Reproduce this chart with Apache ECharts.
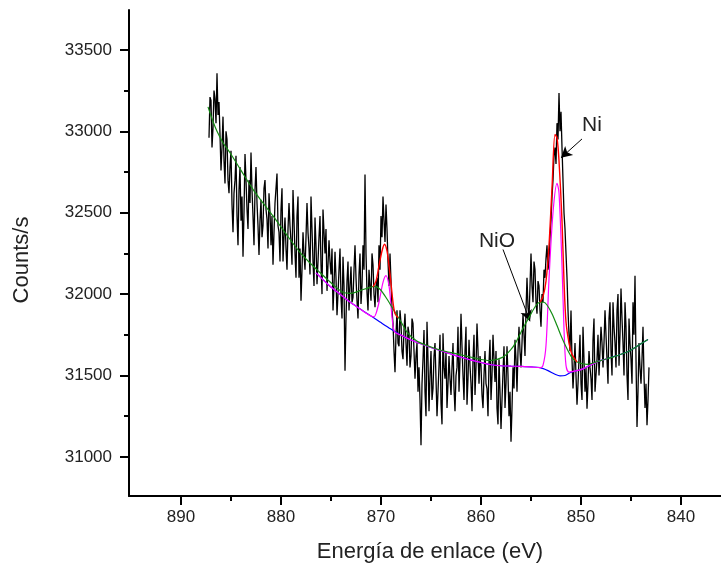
<!DOCTYPE html>
<html>
<head>
<meta charset="utf-8">
<script src="https://cdn.jsdelivr.net/npm/echarts@6/dist/echarts.min.js"></script>
<style>
html,body{margin:0;padding:0;background:#fff;}
#chart{width:721px;height:568px;}
</style>
</head>
<body>
<div id="chart"></div>
<script>
// ---- data ----
const energyStart = 887.2;   // eV, first sample
const energyStep = 0.1;      // eV between samples (descending)
const counts = [
  32960, 33210, 33190, 32900, 33020, 33250, 33200, 33050, 33357, 33100,
  33180, 32980, 32760, 32900, 33090, 32820, 32680, 33000, 32950, 32700,
  32620, 32780, 32880, 32550, 32380, 32620, 32700, 32850, 32480, 32300,
  32640, 32780, 32450, 32600, 32230, 32500, 32860, 32700, 32520, 32400,
  32700, 32560, 32870, 32640, 32480, 32300, 32640, 32780, 32560, 32420,
  32240, 32450, 32580, 32350, 32420, 32650, 32700, 32520, 32460, 32280,
  32620, 32500, 32300, 32480, 32180, 32380, 32560, 32650, 32740, 32420,
  32380, 32200, 32520, 32650, 32200, 32350, 32470, 32280, 32150, 32400,
  32560, 32420, 32320, 32180, 32640, 32450, 32250, 32100, 32480, 32600,
  32100, 32280, 31960, 32150, 32380, 32250, 32150, 32350, 32560, 32380,
  32280, 32120, 32600, 32400, 32200, 32050, 32470, 32300, 32060, 32200,
  32350, 32480, 32180, 32000, 32520, 32380, 32250, 32400, 32020, 32180,
  32330, 32200, 32120, 32280, 31900, 32050, 32260, 32100, 31870, 32000,
  32150, 32280, 31980, 31850, 32230, 32050, 31530, 31850, 32080, 32200,
  31900, 32050, 32170, 31950, 31980, 32150, 32300, 32100, 31960, 31850,
  32120, 32250, 31940, 32050, 32300, 32150, 32735, 32250, 32010, 31900,
  32150, 32050, 31960, 32250, 32180, 32000, 31920, 32050, 32100, 31950,
  32300, 32150, 32480, 32350, 32600, 32450, 32320, 32550, 32400, 32200,
  32050, 32250, 32080, 31900, 31820, 31650, 31520, 31750, 31900, 31700,
  31680, 31900, 31820, 31650, 31600, 31780, 31880, 31700, 31560, 31800,
  31760, 31550, 31620, 31850, 31820, 31650, 31480, 31620, 31700, 31400,
  31550, 31350, 31072, 31450, 31600, 31780, 31400, 31250, 31830, 31600,
  31280, 31500, 31650, 31350, 31420, 31620, 31700, 31480, 31250, 31400,
  31560, 31750, 31330, 31200, 31760, 31550, 31480, 31650, 31300, 31450,
  31620, 31480, 31380, 31550, 31700, 31420, 31280, 31500, 31550, 31800,
  31400, 31600, 31880, 31680, 31500, 31350, 31650, 31800, 31320, 31480,
  31720, 31560, 31450, 31280, 31600, 31750, 31380, 31550, 31820, 31650,
  31450, 31620, 31560, 31380, 31300, 31500, 31650, 31450, 31420, 31250,
  31580, 31720, 31350, 31500, 31750, 31600, 31460, 31650, 31300, 31200,
  31600, 31400, 31172, 31350, 31520, 31680, 31300, 31450, 31680, 31500,
  31250, 31400, 31094, 31300, 31550, 31420, 31720, 31600, 31400, 31650,
  31800, 31650, 31550, 31700, 31880, 31750, 31620, 31900, 32100, 31920,
  31850, 32050, 32250, 32050, 31950, 32200, 32150, 31950, 31880, 32080,
  32050, 31900, 31800, 32000, 31950, 32150, 32100, 32220, 32300, 32150,
  32200, 32350, 32450, 32600, 32700, 32850, 32900, 32800, 33050, 32950,
  33235, 33000, 33120, 32900, 32700, 32500, 32400, 32250, 32100, 31900,
  31750, 31650, 31900, 31600, 31420, 31550, 31700, 31500, 31320, 31450,
  31600, 31750, 31450, 31350, 31800, 31600, 31400, 31550, 31296, 31450,
  31650, 31550, 31480, 31350, 31720, 31850, 31400, 31500, 31600, 31750,
  31500, 31650, 31800, 31700, 31550, 31700, 31900, 31750, 31600, 31450,
  31850, 31950, 31650, 31500, 31950, 31800, 31700, 31550, 31900, 32000,
  31560, 31750, 32034, 31850, 31700, 31500, 31950, 31800, 31500, 31350,
  31850, 31700, 31600, 31450, 31950, 31750, 32112, 31600, 31184, 31400,
  31700, 31550, 31450, 31600, 31800, 31500, 31300, 31450, 31195, 31350,
  31550
];

// fitted envelope (background + NiO components), green
const greenCurve = [
  [887.3,33150],[886.8,33060],[886.4,33000],[885.8,32930],[885.1,32868],[884.0,32760],
  [882.8,32643],[881.8,32560],[880.8,32480],[879.5,32370],[878.1,32256],[877.0,32185],
  [876.1,32133],[875.0,32070],[873.8,32011],[873.0,32005],[872.1,32021],[871.2,32040],
  [870.6,32048],[870.1,32030],[869.4,31970],[868.8,31909],[868.0,31830],[867.4,31766],
  [866.5,31715],[865.4,31684],[864.0,31655],[862.4,31633],[860.8,31610],[859.1,31592],
  [857.8,31613],[857.0,31660],[856.5,31705],[855.8,31790],[855.1,31868],[854.5,31930],
  [854.1,31950],[853.7,31950],[853.4,31933],[852.9,31880],[852.4,31807],[851.9,31730],
  [851.4,31664],[850.9,31610],[850.4,31583],[849.4,31568],[848.4,31585],[847.4,31603],
  [846.4,31622],[845.4,31644],[844.4,31680],[843.3,31721]
];

// Shirley background, blue
const blueCurve = [
  [876.5,32130],[875.1,32048],[874.0,31995],[873.1,31951],[872.0,31905],[870.8,31858],
  [870.0,31825],[869.0,31785],[868.0,31748],[867.0,31718],[866.0,31695],[865.0,31672],
  [864.0,31652],[863.0,31632],[862.0,31612],[861.0,31595],[860.0,31580],[859.0,31566],
  [858.0,31560],[857.0,31558],[856.0,31556],[855.0,31553],[854.1,31548],[853.3,31530],
  [852.6,31508],[852.1,31498],[851.6,31500],[851.1,31517],[850.4,31530],[849.8,31541],
  [848.4,31584],[847.4,31603],[846.4,31622],[845.4,31644],[844.4,31680],[843.3,31721]
];

// background + metallic Ni components, magenta
const magentaCurve = [
  [876.5,32130],[875.1,32048],[874.0,31995],[873.1,31951],[872.0,31905],[871.0,31865],
  [870.7,31860],[870.5,31880],[870.2,31950],[869.8,32072],[869.5,32113],[869.2,32051],
  [869.0,31929],[868.8,31807],[868.6,31765],[868.0,31748],[867.0,31718],[866.0,31695],
  [865.0,31672],[864.0,31652],[863.0,31632],[862.0,31612],[861.0,31595],[860.0,31580],
  [859.0,31566],[858.0,31560],[857.0,31558],[856.0,31556],[855.0,31553],[854.1,31548],
  [853.8,31562],[853.5,31684],[853.2,32092],[852.8,32500],[852.4,32680],[852.2,32623],
  [851.9,32174],[851.7,31786],[851.5,31562],[851.2,31521],[850.4,31530],[849.8,31541],
  [848.4,31584],[847.4,31603]
];

// total fit envelope around the Ni 2p peaks, red
const redCurveA = [
  [870.8,32045],[870.5,32080],[870.2,32174],[869.9,32265],[869.65,32306],[869.4,32265],
  [869.2,32174],[869.0,32065],[868.8,31950],[868.6,31880],[868.3,31855]
];
const redCurveB = [
  [854.1,31950],[853.8,31985],[853.5,32080],[853.2,32300],[852.9,32650],[852.6,32980],
  [852.4,32960],[852.2,32820],[851.9,32450],[851.7,32080],[851.5,31830],[851.2,31700],
  [850.9,31630],[850.4,31583]
];

const xMajorTicks = [890, 880, 870, 860, 850, 840];
const xMinorTicks = [885, 875, 865, 855, 845];
const yMajorTicks = [31000, 31500, 32000, 32500, 33000, 33500];
const yMinorTicks = [31250, 31750, 32250, 32750, 33250];

// annotation labels [text, energy, counts] and arrows [tailE, tailC, headE, headC]
const labels = [['Ni', 848.9, 33037], ['NiO', 858.4, 32325]];
const arrows = [[849.9, 32953, 852.0, 32837], [857.8, 32274, 855.1, 31833]];

// ---- chart ----
const spectrum = counts.map((c, i) => [+(energyStart - i * energyStep).toFixed(1), c]);
const FONT = 'Liberation Sans, Arial, sans-serif';
const TXT = '#222';

const chart = echarts.init(document.getElementById('chart'), null, {renderer: 'canvas'});

const xCommon = {
  type: 'value', inverse: true, min: 836.0, max: 895.2,
  splitLine: {show: false}
};
const yCommon = {
  type: 'value', min: 30760, max: 33745,
  splitLine: {show: false}
};

chart.setOption({
  animation: false,
  backgroundColor: '#fff',
  grid: {left: 129, right: 0, top: 10, bottom: 71, containLabel: false},
  xAxis: [
    Object.assign({}, xCommon, {
      position: 'bottom',
      name: 'Energía de enlace (eV)',
      nameLocation: 'middle',
      nameGap: 45,
      nameTextStyle: {fontFamily: FONT, fontSize: 22, color: TXT, padding: [0, 0, 0, 10]},
      axisLine: {show: true, onZero: false, lineStyle: {color: '#000', width: 2}},
      axisTick: {show: true, inside: false, length: 9, customValues: xMajorTicks, lineStyle: {color: '#000', width: 2}},
      axisLabel: {show: true, margin: 13, customValues: xMajorTicks, fontFamily: FONT, fontSize: 17, color: TXT,
        formatter: v => String(v)}
    }),
    Object.assign({}, xCommon, {
      position: 'bottom',
      axisLine: {show: false},
      axisTick: {show: true, inside: false, length: 5, customValues: xMinorTicks, lineStyle: {color: '#000', width: 2}},
      axisLabel: {show: false}
    })
  ],
  yAxis: [
    Object.assign({}, yCommon, {
      position: 'left',
      name: 'Counts/s',
      nameLocation: 'middle',
      nameRotate: 90,
      nameGap: 96,
      nameTextStyle: {fontFamily: FONT, fontSize: 22, color: TXT, padding: [0, 14, 0, 0]},
      axisLine: {show: true, onZero: false, lineStyle: {color: '#000', width: 2}},
      axisTick: {show: true, inside: false, length: 9, customValues: yMajorTicks, lineStyle: {color: '#000', width: 2}},
      axisLabel: {show: true, margin: 17, customValues: yMajorTicks, fontFamily: FONT, fontSize: 17, color: TXT,
        formatter: v => String(v)}
    }),
    Object.assign({}, yCommon, {
      position: 'left',
      axisLine: {show: false},
      axisTick: {show: true, inside: false, length: 5, customValues: yMinorTicks, lineStyle: {color: '#000', width: 2}},
      axisLabel: {show: false}
    })
  ],
  series: [
    {
      name: 'spectrum', type: 'line', data: spectrum, showSymbol: false, symbol: 'none',
      lineStyle: {color: '#000', width: 1.3}, z: 2, silent: true,
      markLine: {
        silent: true, symbol: ['none', 'arrow'], symbolSize: [9, 11],
        lineStyle: {color: '#000', width: 1, type: 'solid'},
        label: {show: false},
        data: arrows.map(a => [{coord: [a[0], a[1]]}, {coord: [a[2], a[3]]}])
      },
      markPoint: {
        silent: true, symbol: 'circle', symbolSize: 1,
        itemStyle: {color: 'rgba(0,0,0,0)'},
        label: {show: true, position: 'inside', fontFamily: FONT, fontSize: 21, color: TXT, formatter: p => p.name},
        data: labels.map(l => ({name: l[0], coord: [l[1], l[2]]}))
      }
    },
    {name: 'background', type: 'line', data: blueCurve, smooth: 0.3, showSymbol: false, symbol: 'none',
      lineStyle: {color: '#0000ff', width: 1.2}, z: 3, silent: true},
    {name: 'Ni', type: 'line', data: magentaCurve, smooth: 0.3, showSymbol: false, symbol: 'none',
      lineStyle: {color: '#ff00ff', width: 1.2}, z: 4, silent: true},
    {name: 'envelope', type: 'line', data: greenCurve, smooth: 0.3, showSymbol: false, symbol: 'none',
      lineStyle: {color: '#138c13', width: 1.2}, z: 5, silent: true},
    {name: 'fit1', type: 'line', data: redCurveA, smooth: 0.3, showSymbol: false, symbol: 'none',
      lineStyle: {color: '#ff0000', width: 1.4}, z: 6, silent: true},
    {name: 'fit2', type: 'line', data: redCurveB, smooth: 0.3, showSymbol: false, symbol: 'none',
      lineStyle: {color: '#ff0000', width: 1.4}, z: 6, silent: true}
  ]
});
</script>
</body>
</html>
